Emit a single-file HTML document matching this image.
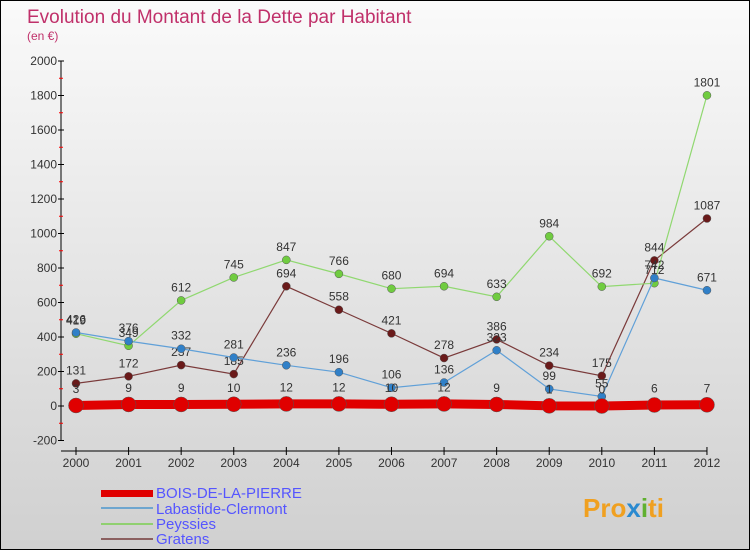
<!DOCTYPE html>
<html><head><meta charset="utf-8"><style>
body{margin:0}
#c{width:748px;height:548px;border:1px solid #000;background:linear-gradient(#fafafa,#d0d0d0);position:relative;overflow:hidden;font-family:"Liberation Sans",sans-serif}
</style></head><body>
<div id="c">
<svg id="s" width="748" height="548" style="position:absolute;left:0;top:0">
<text x="26" y="22" font-size="19" fill="#c0306a">Evolution du Montant de la Dette par Habitant</text>
<text x="26" y="39" font-size="12" fill="#c0306a">(en €)</text>
<g id="axes"></g><g id="series"></g>
<g>
<rect x="100" y="489" width="52" height="7" fill="#e00000"/>
<text x="155" y="497" font-size="15" fill="#5555ff">BOIS-DE-LA-PIERRE</text>
<rect x="100" y="506" width="52" height="2" fill="#6ea6cf"/>
<text x="155" y="513" font-size="15" fill="#5555ff">Labastide-Clermont</text>
<rect x="100" y="522" width="52" height="2" fill="#90d070"/>
<text x="155" y="528" font-size="15" fill="#5555ff">Peyssies</text>
<rect x="100" y="537" width="52" height="2" fill="#8b6060"/>
<text x="155" y="543" font-size="15" fill="#5555ff">Gratens</text>
</g>
<text x="582" y="516" font-size="26" font-weight="bold" fill="#f0a020">Pro<tspan fill="#2a8ad0">x</tspan><tspan fill="#60b030">i</tspan>ti</text>
</svg>
</div>
<script>
const years=[2000,2001,2002,2003,2004,2005,2006,2007,2008,2009,2010,2011,2012];
const yTicks=[-200,0,200,400,600,800,1000,1200,1400,1600,1800,2000];
const bois=[3,9,9,10,12,12,10,12,9,1,0,6,7];
const labastide=[426,376,332,281,236,196,106,136,323,99,55,742,671];
const peyssies=[419,349,612,745,847,766,680,694,633,984,692,712,1801];
const gratens=[131,172,237,185,694,558,421,278,386,234,175,844,1087];
const NS="http://www.w3.org/2000/svg";
const X=i=>75+i*52.58, Y=v=>405-v*0.1725;
function mk(t,a,p){const e=document.createElementNS(NS,t);for(const k in a)e.setAttribute(k,a[k]);p.appendChild(e);return e;}
const ax=document.getElementById('axes'), sr=document.getElementById('series');
let e=mk('line',{x1:60,y1:Y(2000),x2:60,y2:Y(-200),stroke:'#000'},ax);


e=mk('line',{x1:60,y1:450,x2:X(12),y2:450,stroke:'#000'},ax);


const yMax=yTicks[yTicks.length-1];
yTicks.forEach(v=>{mk('line',{x1:57,x2:63,y1:Y(v),y2:Y(v),stroke:'#000'},ax);
if(v<yMax)mk('line',{x1:58,x2:62,y1:Y(v+100),y2:Y(v+100),stroke:'#f00'},ax);
const t=mk('text',{x:56,y:Y(v)+4,'font-size':12,'text-anchor':'end',fill:'#333'},ax);t.textContent=v;

});
years.forEach((y,i)=>{mk('line',{x1:X(i),x2:X(i),y1:446,y2:454,stroke:'#000'},ax);
const t=mk('text',{x:X(i),y:466,'font-size':12,'text-anchor':'middle',fill:'#333'},ax);t.textContent=y;

});
function series(d,col,dot,w,r,name){
const g=mk('g',{},sr);


mk('polyline',{points:d.map((v,i)=>X(i)+','+Y(v)).join(' '),fill:'none',stroke:col,'stroke-width':w},g);
d.forEach((v,i)=>{const c=mk('circle',{cx:X(i),cy:Y(v),r:r,fill:dot,stroke:'#555','stroke-width':0.5},g);


const t=mk('text',{x:X(i),y:Y(v)-(r+5),'font-size':12,'text-anchor':'middle',fill:'#333'},g);t.textContent=v;

});}
series(gratens,'#7a3a3a','#6a1a1a',1.2,4,'gratens');
series(peyssies,'#90d870','#70cc40',1.2,4,'peyssies');
series(labastide,'#60a0d8','#3080c8',1.2,4,'labastide');
series(bois,'#e00000','#e00000',9,7.5,'bois');
</script>
</body></html>
